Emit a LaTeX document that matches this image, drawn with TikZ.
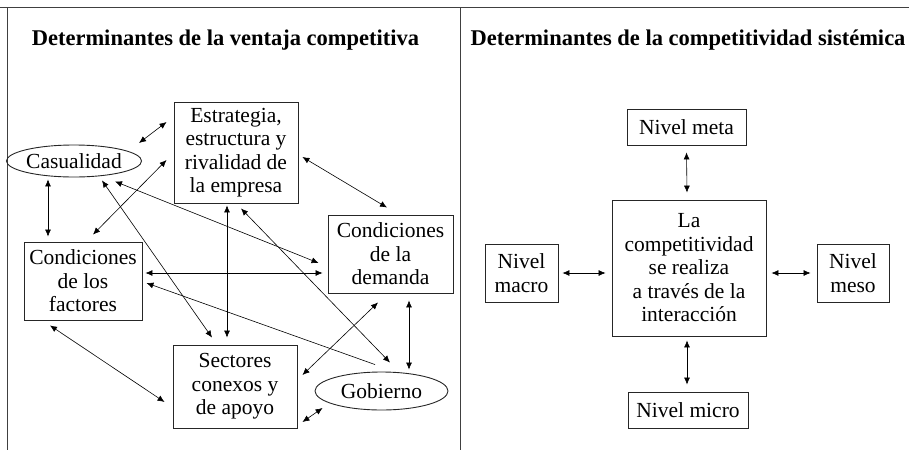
\documentclass[tikz,border=0pt]{standalone}
\usepackage{fontspec}
\setmainfont{Liberation Serif}
\usetikzlibrary{arrows.meta,shapes.geometric}

\tikzset{
	caja/.style={draw=black!85, line width=0.9pt, align=center, inner sep=2pt,
		font=\fontsize{21.5}{23.5}\selectfont},
	elipse/.style={caja, ellipse},
	punta/.tip={Latex[length=7pt,width=6pt]},
	flecha/.style={line width=0.6pt, punta-punta},
	titulo/.style={font=\bfseries\fontsize{22.5}{25}\selectfont}
}

\begin{document}
\begin{tikzpicture}[x=1pt, y=-1pt]
	\useasboundingbox (0,0) rectangle (909,450);
	\draw[black!75, line width=1pt] (0,7)--(909,7);
	\draw[black!75, line width=1pt] (7,7)--(7,450);
	\draw[black!75, line width=1pt] (460,7)--(460,450);

	\node[titulo] (t1) at (225.5,40) {Determinantes de la ventaja competitiva};
	\node[titulo] (t2) at (688,40) {Determinantes de la competitividad sistémica};

	% ventaja competitiva
	\node[caja, minimum width=124pt, minimum height=101pt] (est) at (236,152.5) {Estrategia,\\estructura y\\rivalidad de\\la empresa};
	\node[elipse, minimum width=118pt, minimum height=32pt, inner sep=0pt] (cas) at (74,161) {Casualidad};
	\node[caja, minimum width=118pt, minimum height=78pt] (fac) at (83,281) {Condiciones\\de los\\factores};
	\node[caja, minimum width=125pt, minimum height=78pt] (dem) at (390.5,254) {Condiciones\\de la\\demanda};
	\node[caja, minimum width=124pt, minimum height=83pt] (sec) at (235,386.5) {Sectores\\conexos y\\de apoyo};
	\node[elipse, minimum width=133pt, minimum height=38pt, inner sep=0pt] (gob) at (381.5,391) {Gobierno};

	\draw[flecha] ([xshift=-3pt,yshift=18pt]cas.east) -- ([xshift=-7pt,yshift=30.5pt]est.west);
	\draw[flecha] ([xshift=-26pt,yshift=-2pt]cas.south) -- ([xshift=-35pt,yshift=5pt]fac.north);
	\draw[flecha] ([xshift=10pt,yshift=7pt]fac.north) -- ([xshift=-7pt,yshift=-7.5pt]est.west);
	\draw[flecha] ([xshift=28pt,yshift=-3pt]cas.south) -- ([xshift=-23pt,yshift=7pt]sec.north);
	\draw[flecha] ([xshift=41pt,yshift=-4pt]cas.south) -- ([xshift=-9pt,yshift=-9pt]dem.west);
	\draw[flecha] ([xshift=3pt,yshift=8pt]fac.east) -- ([xshift=-5pt,yshift=-19pt]dem.west);
	\draw[flecha] ([xshift=-9pt,yshift=-2pt]est.south) -- ([xshift=-8pt,yshift=7pt]sec.north);
	\draw[flecha] ([xshift=5pt,yshift=-5pt]est.south) -- ([xshift=8.5pt,yshift=9pt]gob.north);
	\draw[flecha] ([xshift=4pt,yshift=-4.5pt]est.east) -- ([xshift=-3.5pt,yshift=7pt]dem.north);
	\draw[flecha, -punta] ([xshift=-6.5pt,yshift=7pt]gob.north) -- ([xshift=4pt,yshift=-2pt]fac.east);
	\draw[flecha] ([xshift=-33pt,yshift=-5pt]fac.south) -- ([xshift=-8pt,yshift=-15.5pt]sec.west);
	\draw[flecha] ([xshift=5pt,yshift=11.5pt]sec.east) -- ([xshift=-12.5pt,yshift=-9pt]dem.south);
	\draw[flecha] ([xshift=18.5pt,yshift=-7pt]dem.south) -- ([xshift=27.5pt,yshift=2pt]gob.north);
	\draw[flecha] ([xshift=5pt,yshift=-35.5pt]sec.east) -- ([xshift=8pt,yshift=-17pt]gob.west);

	% competitividad sistemica
	\node[caja, minimum width=154pt, minimum height=136pt] (cen) at (689,268) {La\\competitividad\\se realiza\\a través de la\\interacción};
	\node[caja, minimum width=119pt, minimum height=36pt] (meta) at (686.5,127) {Nivel meta};
	\node[caja, minimum width=73pt, minimum height=58pt] (macro) at (521.5,273) {Nivel\\macro};
	\node[caja, minimum width=72pt, minimum height=58pt] (meso) at (853,273) {Nivel\\meso};
	\node[caja, minimum width=120pt, minimum height=36pt] (micro) at (688,410) {Nivel micro};

	\draw[flecha] ([yshift=-7pt]meta.south) -- ([xshift=-2pt,yshift=7pt]cen.north);
	\draw[flecha] ([xshift=-2pt,yshift=-4pt]cen.south) -- ([xshift=-1pt,yshift=7pt]micro.north);
	\draw[flecha] ([xshift=4pt]macro.east) -- ([xshift=-6pt,yshift=-5pt]cen.west);
	\draw[flecha] ([xshift=5pt,yshift=-5pt]cen.east) -- ([xshift=-6pt]meso.west);
\end{tikzpicture}
\end{document}
